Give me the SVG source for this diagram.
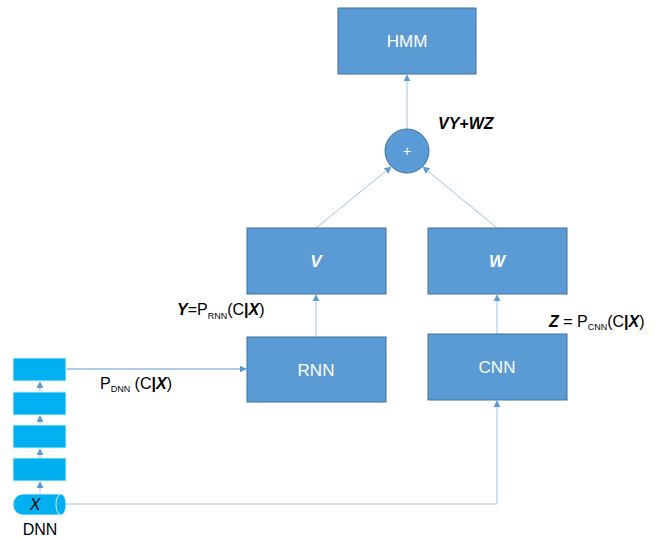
<svg xmlns="http://www.w3.org/2000/svg" width="660" height="541" viewBox="0 0 660 541">
<style>
.box{fill:#5B9BD5;stroke:#41719C;stroke-width:1}
.dnn{fill:#00B0F0;stroke:#D6EEFA;stroke-width:1}
.lbl{font-family:"Liberation Sans",Arial,sans-serif;font-size:17px;fill:#FFFFFF;text-anchor:middle}
.t{font-family:"Liberation Sans",Arial,sans-serif;font-size:16px;fill:#000000}
.sub{font-size:9px}
.bi{font-weight:bold;font-style:italic}
.c{fill:none;stroke:#9DC3E6;stroke-width:1}
.c2{fill:none;stroke:#5B9BD5;stroke-width:1.2}
</style>
<defs>
<marker id="ah" viewBox="0 0 10 10" refX="9" refY="5" markerWidth="7" markerHeight="7" orient="auto" markerUnits="userSpaceOnUse">
<path d="M0,0 L10,5 L0,10 z" fill="#5B9BD5"/>
</marker>
</defs>
<rect width="660" height="541" fill="#FFFFFF"/>
<g id="connectors">
<line class="c" x1="407" y1="129" x2="407" y2="75" marker-end="url(#ah)"/>
<line class="c" x1="316" y1="228" x2="391" y2="167" marker-end="url(#ah)"/>
<line class="c" x1="497" y1="228" x2="423" y2="167" marker-end="url(#ah)"/>
<line class="c" x1="316" y1="337" x2="316" y2="295" marker-end="url(#ah)"/>
<line class="c" x1="497" y1="334" x2="497" y2="295" marker-end="url(#ah)"/>
<line class="c2" x1="66" y1="369" x2="246" y2="369" marker-end="url(#ah)"/>
<polyline class="c" points="66,504 497,504 497,401" marker-end="url(#ah)"/>
<line class="c" x1="40" y1="458" x2="40" y2="449" marker-end="url(#ah)"/>
<line class="c" x1="40" y1="425" x2="40" y2="416" marker-end="url(#ah)"/>
<line class="c" x1="40" y1="392" x2="40" y2="382" marker-end="url(#ah)"/>
<line class="c" x1="40" y1="494" x2="40" y2="482" marker-end="url(#ah)"/>
</g>
<g id="hmm"><rect class="box" x="338" y="8" width="138" height="66"/><text class="lbl" x="407" y="47">HMM</text></g>
<g id="plus"><circle class="box" cx="407" cy="151" r="22"/><text class="lbl" x="407" y="156" style="font-size:14px">+</text></g>
<g id="vnode"><rect class="box" x="247" y="228" width="139" height="66"/><text class="lbl bi" x="316" y="267">V</text></g>
<g id="wnode"><rect class="box" x="428" y="228" width="139" height="66"/><text class="lbl bi" x="497" y="267">W</text></g>
<g id="rnn"><rect class="box" x="247" y="337" width="139" height="65"/><text class="lbl" x="316" y="376">RNN</text></g>
<g id="cnn"><rect class="box" x="428" y="334" width="139" height="66"/><text class="lbl" x="497" y="373">CNN</text></g>
<g id="dnn">
<rect class="dnn" x="13" y="358" width="53" height="23"/>
<rect class="dnn" x="13" y="392" width="53" height="23"/>
<rect class="dnn" x="13" y="425" width="53" height="23"/>
<rect class="dnn" x="13" y="458" width="53" height="23"/>
<path class="dnn" d="M23,494 L61,494 A5,10.5 0 0 1 61,515 L23,515 A10,10.5 0 0 1 23,494 Z"/>
<ellipse cx="61" cy="504.5" rx="5" ry="10.5" fill="#00B0F0" stroke="#D6EEFA" stroke-width="1"/>
<text class="t" x="35" y="510" style="font-style:italic;font-size:16px" text-anchor="middle">X</text>
<text class="t" x="40" y="535" text-anchor="middle" style="font-size:16px">DNN</text>
</g>
<g id="labels">
<text class="t" x="438" y="129" style="font-size:16px"><tspan class="bi">VY+WZ</tspan></text>
<text class="t" x="100" y="389">P<tspan class="sub" dy="3">DNN</tspan><tspan dy="-3"> (C</tspan><tspan font-weight="bold">|</tspan><tspan class="bi">X</tspan>)</text>
<text class="t" x="177" y="315"><tspan class="bi">Y</tspan>=P<tspan class="sub" dy="4">RNN</tspan><tspan dy="-4">(C</tspan><tspan font-weight="bold">|</tspan><tspan class="bi">X</tspan>)</text>
<text class="t" x="549" y="327"><tspan class="bi">Z</tspan> = P<tspan class="sub" dy="3">CNN</tspan><tspan dy="-3">(C</tspan><tspan font-weight="bold">|</tspan><tspan class="bi">X</tspan>)</text>
</g>
</svg>
